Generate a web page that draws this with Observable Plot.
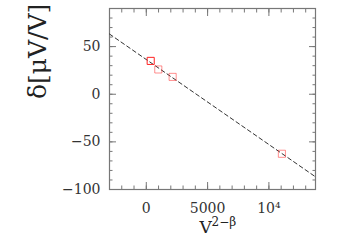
<!DOCTYPE html>
<html>
<head>
<meta charset="utf-8">
<script src="https://cdn.jsdelivr.net/npm/d3@7"></script>
<script src="https://cdn.jsdelivr.net/npm/@observablehq/plot@0.6"></script>
<style>
  html, body { margin: 0; padding: 0; background: #fff; }
  #chart { width: 346px; height: 245px; }
</style>
</head>
<body>
<div id="chart"></div>
<script>
// Data
const pointX = [360, 980, 2150, 11060];
const pointY = [35, 26, 18.2, -62.5];
const fitX = [-3000, 13800];
const fitY = [63.2, -86.7];
const xMajorTicks = [0, 5000, 10000];
const yMajorTicks = [-100, -50, 0, 50];

const points = pointX.map((x, i) => ({x, y: pointY[i]}));
const fit = fitX.map((x, i) => ({x, y: fitY[i]}));
const xMinor = d3.range(-3000, 14000, 1000);
const yMinor = d3.range(-100, 91, 10);

const font = "'DejaVu Serif', 'Liberation Serif', serif";
const tickColor = "#777";
const blank = () => "";
const fmtX = d => d === 10000 ? "10\u2074" : String(d);
const fmtY = d => d < 0 ? "\u2212" + Math.abs(d) : String(d);

const chart = Plot.plot({
  width: 346,
  height: 245,
  marginLeft: 109,
  marginRight: 31,
  marginTop: 8,
  marginBottom: 56,
  style: {fontFamily: font, fontSize: "14px", background: "#fff", color: "#222"},
  x: {domain: [-3000, 13800]},
  y: {domain: [-100, 90]},
  marks: [
    // minor ticks (inward)
    Plot.axisX({anchor: "bottom", ticks: xMinor, tickSize: -3.5, tickFormat: blank, stroke: tickColor, label: null}),
    Plot.axisX({anchor: "top", ticks: xMinor, tickSize: -3.5, tickFormat: blank, stroke: tickColor, label: null}),
    Plot.axisY({anchor: "left", ticks: yMinor, tickSize: -3.5, tickFormat: blank, stroke: tickColor, label: null}),
    Plot.axisY({anchor: "right", ticks: yMinor, tickSize: -3.5, tickFormat: blank, stroke: tickColor, label: null}),
    // major ticks (inward)
    Plot.axisX({anchor: "top", ticks: xMajorTicks, tickSize: -7, tickFormat: blank, stroke: tickColor, label: null}),
    Plot.axisY({anchor: "right", ticks: yMajorTicks, tickSize: -7, tickFormat: blank, stroke: tickColor, label: null}),
    Plot.axisX({anchor: "bottom", ticks: xMajorTicks, tickSize: -7, tickFormat: blank, stroke: tickColor, label: null}),
    Plot.axisY({anchor: "left", ticks: yMajorTicks, tickSize: -7, tickFormat: blank, stroke: tickColor, label: null}),
    // tick labels
    Plot.axisX({anchor: "bottom", ticks: xMajorTicks, tickSize: 0, tickPadding: 14, tickFormat: fmtX, fill: "#333", fontSize: 14, label: null}),
    Plot.axisY({anchor: "left", ticks: yMajorTicks, tickSize: 0, tickPadding: 9, tickFormat: fmtY, fill: "#333", fontSize: 14, label: null}),
    Plot.frame({stroke: tickColor, strokeWidth: 1.2}),
    // fit line
    Plot.line(fit, {x: "x", y: "y", stroke: "#333", strokeWidth: 1, strokeDasharray: "4,3"}),
    // data squares
    Plot.dot(points, {
      x: "x", y: "y", symbol: "square", r: 4, fill: "none",
      stroke: "#ff2222", strokeWidth: 1,
      strokeOpacity: (d, i) => i === 0 ? 1 : 0.5
    }),
    // axis labels
    Plot.text(["δ[μV/V]"], {frameAnchor: "left", dx: -72, rotate: -90, fontSize: 25, fill: "#222", fontFamily: font}),
    Plot.text(["V"], {frameAnchor: "bottom", dy: 38, dx: -13, fontSize: 17, fill: "#222", fontFamily: font, textAnchor: "start", lineAnchor: "middle"}),
    Plot.text(["2−β"], {frameAnchor: "bottom", dy: 33, dx: -1, fontSize: 12, fill: "#222", fontFamily: font, textAnchor: "start", lineAnchor: "middle"})
  ]
});
document.getElementById("chart").appendChild(chart);
</script>
</body>
</html>
